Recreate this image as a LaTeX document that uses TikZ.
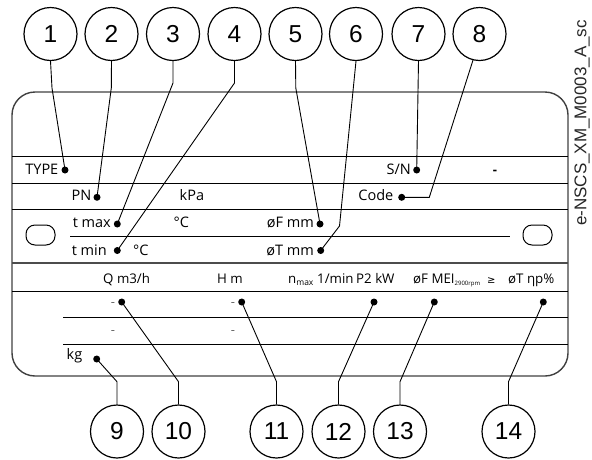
\documentclass[tikz,border=0pt]{standalone}
\usepackage{fontspec}
\setmainfont{Open Sans}
\newfontfamily\arialf{Liberation Sans}
\newfontfamily\symf{DejaVu Sans}
\newcommand{\mysub}[2]{{\fontsize{#1}{#1}\selectfont\raisebox{-1.8pt}{#2}}}
\begin{document}
\begin{tikzpicture}[x=1pt,y=-1pt,
  num/.style={circle,draw,line width=1.2pt,minimum size=53pt,inner sep=0pt,font=\arialf\fontsize{24.5}{24.5}\selectfont},
  lead/.style={line width=0.9pt},
  dotn/.style={circle,fill,minimum size=7pt,inner sep=0pt},
  lblw/.style={anchor=base west,inner sep=0pt,font=\fontsize{14.5}{14.5}\selectfont},
  lble/.style={anchor=base east,inner sep=0pt,font=\fontsize{14.5}{14.5}\selectfont},
  lbls/.style={anchor=base west,inner sep=0pt,font=\fontsize{13.3}{13.3}\selectfont},
  dashl/.style={anchor=base,inner sep=0pt,font=\fontsize{13}{13}\selectfont,text=black!60},
  plate/.style={line width=1.4pt,draw=black!75},
  rule/.style={line width=0.9pt},
  thickrule/.style={line width=1.5pt,draw=black!70}]
\useasboundingbox (0,0) rectangle (592,459);

% plate
\draw[plate,rounded corners=23pt] (12,92) rectangle (568,376);
\draw[rule] (12,156) -- (568,156);
\draw[rule] (12,183) -- (568,183);
\draw[rule] (12,209) -- (568,209);
\draw[rule] (70,236) -- (510,236);
\draw[thickrule] (12,263) -- (568,263);
\draw[rule] (12,291) -- (568,291);
\draw[rule] (63,317) -- (568,317);
\draw[rule] (63,344) -- (568,344);

% ovals
\draw[line width=1pt,rounded corners=9pt] (26,225) rectangle (55,245);
\draw[line width=1pt,rounded corners=9pt] (523,225) rectangle (552,245);

% texts
\node[lble] (tType) at (58.5,174) {TYPE};
\node[lble] (tSN) at (411,174) {S/N};
\node[anchor=base,inner sep=0pt,font=\bfseries\fontsize{13}{13}\selectfont] (tDash) at (495,174) {-};
\node[lble] (tPN) at (91.5,200.7) {PN};
\node[lblw] (tkPa) at (179.5,200.7) {kPa};
\node[lble] (tCode) at (393.5,200.7) {Code};
\node[lble] (tTmax) at (111,227.7) {t max};
\node[lblw] (tC1) at (173.5,227.7) {°C};
\node[lble] (tFmm) at (314,227.7) {øF mm};
\node[lble] (tTmin) at (107,255.7) {t min};
\node[lblw] (tC2) at (133,255.7) {°C};
\node[lble] (tTmm) at (314,255.7) {øT mm};

\node[lbls] (tQ) at (103,283.7) {Q m3/h};
\node[lbls] (tH) at (217,283.7) {H m};
\node[lbls] (tN) at (288,283.7) {n\mysub{8.5}{max}};
\node[lbls] (tMin) at (317,283.7) {1/min};
\node[lbls] (tP2) at (356,283.7) {P2 kW};
\node[lbls] (tMEI) at (413,283.7) {øF MEI\mysub{6}{2900rpm}};
\node[anchor=base west,inner sep=0pt,font=\symf\fontsize{10}{10}\selectfont] (tGe) at (487,283.7) {≥};
\node[lbls] (tEta) at (508,283.7) {øT ηp\%};

\node[dashl] (r6a) at (113,306) {-};
\node[dashl] (r6b) at (233,306) {-};
\node[dashl] (r7a) at (113,334.5) {-};
\node[dashl] (r7b) at (233,334.5) {-};
\node[lblw] (tkg) at (66.5,359) {kg};

% rotated code
\node[rotate=90,inner sep=0pt,font=\arialf\fontsize{17}{17}\selectfont,text=black!85] (code) at (582,123) {e-NSCS\_XM\_M0003\_A\_sc};

% dots
\node[dotn] (d1) at (65,170) {};
\node[dotn] (d2) at (97,197.3) {};
\node[dotn] (d3) at (117.3,224) {};
\node[dotn] (d4) at (117.3,250.5) {};
\node[dotn] (d5) at (320,224) {};
\node[dotn] (d6) at (320.7,250.5) {};
\node[dotn] (d7) at (416.7,170) {};
\node[dotn] (d8) at (401.7,197.3) {};
\node[dotn] (d9) at (96.7,359) {};
\node[dotn] (d10) at (121.7,302) {};
\node[dotn] (d11) at (241.7,302) {};
\node[dotn] (d12) at (374,302) {};
\node[dotn] (d13) at (434.3,302) {};
\node[dotn] (d14) at (543.3,302) {};

% numbered circles
\node[num] (c1) at (50.5,34) {1};
\node[num] (c2) at (111.5,34) {2};
\node[num] (c3) at (173,34) {3};
\node[num] (c4) at (234.5,34) {4};
\node[num] (c5) at (295.5,34) {5};
\node[num] (c6) at (356,34) {6};
\node[num] (c7) at (418.5,34) {7};
\node[num] (c8) at (479.5,34) {8};
\node[num] (c9) at (117,431.5) {9};
\node[num] (c10) at (178.5,431.5) {10};
\node[num] (c11) at (276.5,431.5) {11};
\node[num] (c12) at (338.5,431.5) {12};
\node[num] (c13) at (400,431.5) {13};
\node[num] (c14) at (508.5,431.5) {14};

% leaders top
\draw[lead] (c1.south) -- (52,88) -- (d1.center);
\draw[lead] (c2.south) -- (111.3,88) -- (d2.center);
\draw[lead] (c3.south) -- (173,83) -- (d3.center);
\draw[lead] (c4.south) -- (234.5,83) -- (d4.center);
\draw[lead] (c5.south) -- (295.8,88) -- (d5.center);
\draw[lead] (c6.south) -- (339.5,226) -- (d6.center);
\draw[lead] (c7.south) -- (d7.center);
\draw[lead] (c8.-104) -- (429.3,197.3) -- (d8.center);

% leaders bottom
\draw[lead] (d9.center) -- (117,381.7) -- (c9.north);
\draw[lead] (d10.center) -- (178.5,381.7) -- (c10.north);
\draw[lead] (d11.center) -- (276.5,381.7) -- (c11.north);
\draw[lead] (d12.center) -- (338.5,381.7) -- (c12.north);
\draw[lead] (d13.center) -- (400,381.7) -- (c13.north);
\draw[lead] (d14.center) -- (508.5,381.7) -- (c14.north);
\end{tikzpicture}
\end{document}
